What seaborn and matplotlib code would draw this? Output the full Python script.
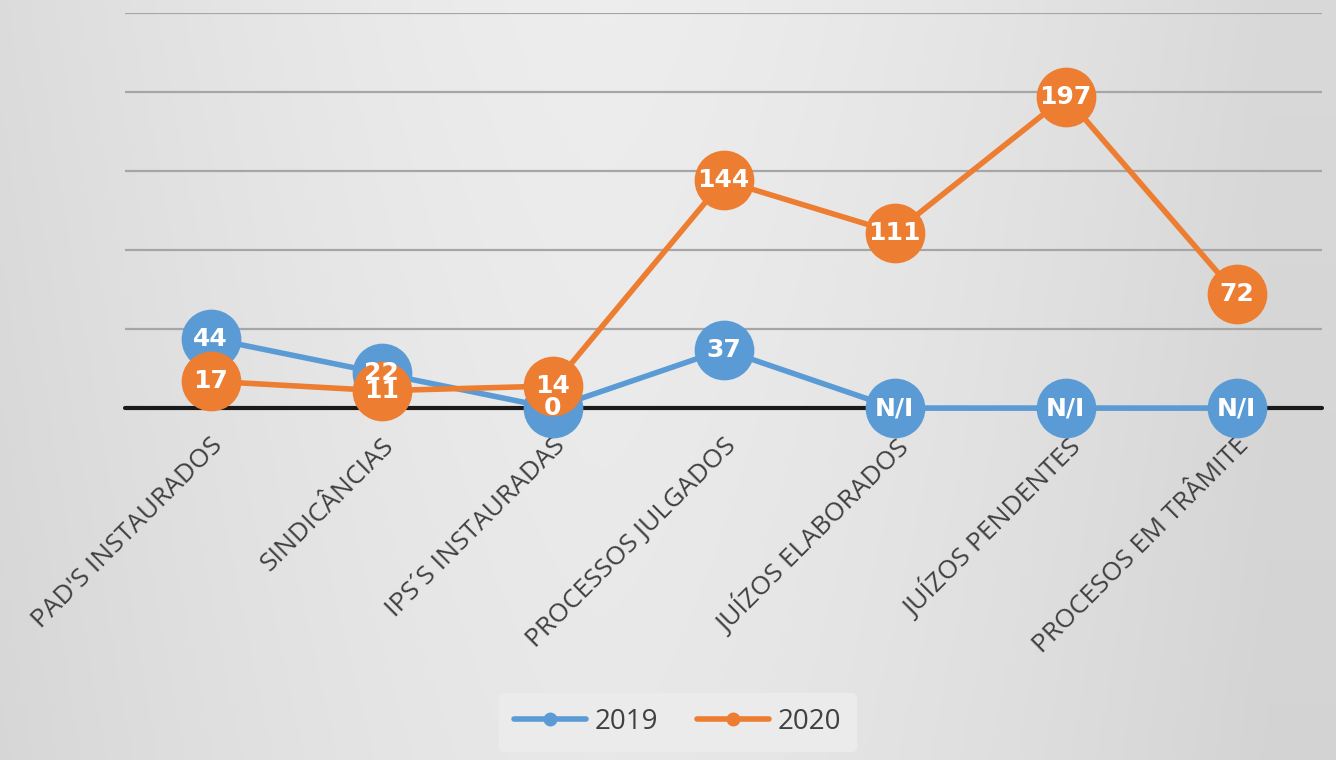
import numpy as np
import pandas as pd
import matplotlib
matplotlib.use("Agg")
import matplotlib.pyplot as plt
import seaborn as sns

categories = ["PAD'S INSTAURADOS", "SINDICÂNCIAS", "IPS´S INSTAURADAS", "PROCESSOS JULGADOS",
              "JUÍZOS ELABORADOS", "JUÍZOS PENDENTES", "PROCESOS EM TRÂMITE"]
values_2019 = [44, 22, 0, 37, 0, 0, 0]
labels_2019 = ["44", "22", "0", "37", "N/I", "N/I", "N/I"]
values_2020 = [17, 11, 14, 144, 111, 197, 72]
labels_2020 = ["17", "11", "14", "144", "111", "197", "72"]
years = ["2019", "2020"]
colors = {"2019": "#5b9bd5", "2020": "#ed7d31"}

df = pd.DataFrame({
    "categoria": categories * 2,
    "valor": values_2019 + values_2020,
    "rotulo": labels_2019 + labels_2020,
    "ano": [years[0]] * len(categories) + [years[1]] * len(categories),
})

sns.set_theme(style="white")
plt.rcParams["font.family"] = ["Open Sans", "DejaVu Sans"]

fig = plt.figure(figsize=(13.36, 7.6), dpi=100)

# soft gray gradient background
bg = fig.add_axes([0, 0, 1, 1], zorder=-10)
xx = np.linspace(-1, 1, 400)
yy = np.linspace(-1, 1, 220)
X, Y = np.meshgrid(xx, yy)
grad = 0.93 - 0.08 * np.clip(np.abs(X + 0.1), 0, 1) ** 1.5 - 0.02 * (Y + 1) / 2
bg.imshow(np.dstack([grad] * 3), aspect="auto", extent=[0, 1, 0, 1])
bg.axis("off")

ax = fig.add_axes([0.0936, 0.463, 0.896, 0.52])
ax.set_facecolor("none")

for ano in years:
    sub = df[df["ano"] == ano]
    sns.lineplot(data=sub, x="categoria", y="valor", color=colors[ano], label=ano,
                 marker="o", markersize=43, markeredgewidth=0, linewidth=4,
                 sort=False, ax=ax, legend=False, zorder=3, clip_on=False)

for ano in years:
    sub = df[df["ano"] == ano].reset_index(drop=True)
    for i, row in sub.iterrows():
        ax.text(i, row["valor"], row["rotulo"], ha="center", va="center", color="white",
                fontsize=18, fontweight="bold", zorder=10,
                family=["Liberation Sans Narrow", "DejaVu Sans Condensed", "DejaVu Sans"])

ax.set_xlim(-0.5, len(categories) - 0.5)
ax.set_ylim(0, 250)
ax.set_yticks([50, 100, 150, 200, 250])
ax.yaxis.grid(True, color="#a6a6a6", linewidth=1.6)
ax.set_yticklabels([])
ax.tick_params(axis="y", length=0)
ax.axhline(0, color="#1a1a1a", linewidth=3, zorder=2, clip_on=False)
for s in ax.spines.values():
    s.set_visible(False)
ax.set_xlabel("")
ax.set_ylabel("")
ax.set_xticks(range(len(categories)))
ax.set_xticklabels(categories, rotation=45, ha="right", rotation_mode="anchor",
                   fontsize=19, color="#404040")
ax.tick_params(axis="x", length=0, pad=18)

handles = [plt.Line2D([0], [0], color=colors[a], linewidth=4, marker="o", markersize=9)
           for a in years]
leg = fig.legend(handles, years, loc="center", bbox_to_anchor=(0.507, 0.05), ncol=2,
                 frameon=True, fontsize=20, handlelength=2.6, columnspacing=1.4,
                 borderpad=0.55, handletextpad=0.3)
leg.get_frame().set_facecolor("#ebebeb")
leg.get_frame().set_edgecolor("#ebebeb")
leg.get_frame().set_alpha(1)
for t in leg.get_texts():
    t.set_color("#404040")

fig.savefig("out.png", dpi=100)
